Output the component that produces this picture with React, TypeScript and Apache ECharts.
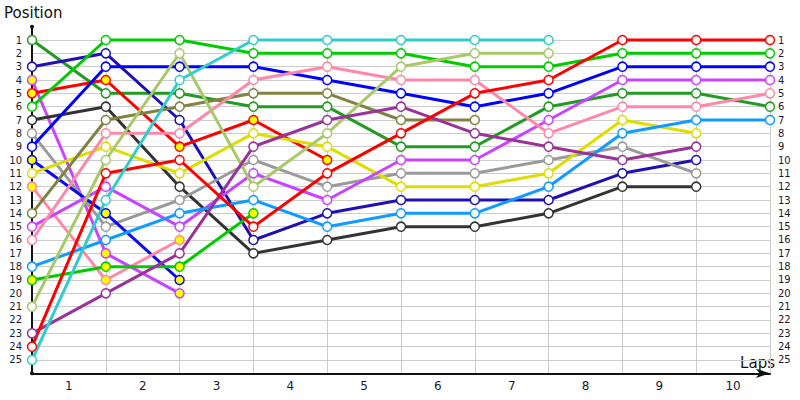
import { useEffect, useRef } from "react";
import * as echarts from "echarts";

// Lap indices (0 = grid / start)
const laps = [0, 1, 2, 3, 4, 5, 6, 7, 8, 9, 10];
// Labels under the x axis (centred between lap lines)
const lapLabels = ["1", "2", "3", "4", "5", "6", "7", "8", "9", "10"];
// Position tick labels on both sides
const positionTicks = [1, 2, 3, 4, 5, 6, 7, 8, 9, 10, 11, 12, 13, 14, 15, 16, 17, 18, 19, 20, 21, 22, 23, 24, 25];

// Drivers
const driverNames = ["A", "B", "C", "D", "E", "F", "G", "H", "I", "J", "K", "L", "M", "N", "O", "P", "Q", "R", "S", "T"];

// Position of each driver at each lap (starting at lap 0); arrays end at retirement
const posA = [1, 5, 5, 6, 6, 9, 9, 6, 5, 5, 6];
const posB = [3, 2, 7, 16, 14, 13, 13, 13, 11, 10];
const posC = [4, 17, 20];
const posD = [5, 4, 9, 7, 10];
const posE = [6, 1, 1, 2, 2, 2, 3, 3, 2, 2, 2];
const posF = [7, 6, 12, 17, 16, 15, 15, 14, 12, 12];
const posG = [8, 15, 13, 10, 12, 11, 11, 10, 9, 11];
const posH = [9, 3, 3, 3, 4, 5, 6, 5, 3, 3, 3];
const posI = [10, 14, 19];
const posJ = [11, 9, 11, 8, 9, 12, 12, 11, 7, 8];
const posK = [12, 19, 16];
const posL = [14, 7, 6, 5, 5, 7, 7];
const posM = [15, 12, 15, 11, 13, 10, 10, 7, 4, 4, 4];
const posN = [16, 8, 8, 4, 3, 4, 4, 8, 6, 6, 5];
const posO = [18, 16, 14, 13, 15, 14, 14, 12, 8, 7, 7];
const posP = [19, 18, 18, 14];
const posQ = [21, 10, 2, 12, 8, 3, 2, 2];
const posR = [23, 20, 17, 9, 7, 6, 8, 9, 10, 9];
const posS = [24, 11, 10, 15, 11, 8, 5, 4, 1, 1, 1];
const posT = [25, 13, 4, 1, 1, 1, 1, 1];

const driverPositions = [posA, posB, posC, posD, posE, posF, posG, posH, posI, posJ, posK, posL, posM, posN, posO, posP, posQ, posR, posS, posT];
// Drivers drawn with yellow-filled markers
const driverFlagged = [false, false, true, true, false, false, false, false, true, false, true, false, false, false, false, true, false, false, false, false];

// Styles
const driverColors = [
  "#239a23", // A dark green
  "#1f0fb4", // B indigo
  "#c845ff", // C purple
  "#ff0000", // D red
  "#00cc00", // E green
  "#333333", // F black
  "#9a9a9a", // G gray
  "#0000ff", // H blue
  "#0a0af0", // I blue
  "#dddd00", // J yellow
  "#ff88aa", // K pink
  "#828242", // L olive
  "#c845ff", // M purple
  "#ff88aa", // N pink
  "#0f9bff", // O light blue
  "#00cc00", // P green
  "#a8c96a", // Q light green
  "#993399", // R dark purple
  "#ff0000", // S red
  "#33cccc", // T cyan
];

const FONT = "DejaVu Sans";

export default function App() {
  const ref = useRef<HTMLDivElement>(null);

  useEffect(() => {
    if (!ref.current) return;
    const chart = echarts.init(ref.current, null, { renderer: "svg" });

    const firstLap = laps[0];
    const lastLap = laps[laps.length - 1];
    const gridLines: any[] = [];
    positionTicks.forEach((p) => {
      gridLines.push([{ coord: [firstLap, p] }, { coord: [lastLap, p] }]);
    });
    laps.slice(1).forEach((l) => {
      gridLines.push([{ coord: [l, positionTicks[0]] }, { coord: [l, 26] }]);
    });

    const series: any[] = [
      {
        name: "grid",
        type: "line",
        data: [[firstLap, positionTicks[0]]],
        silent: true,
        z: 0,
        symbol: "none",
        showSymbol: false,
        lineStyle: { opacity: 0, width: 0 },
        markLine: {
          silent: true,
          z: 0,
          zlevel: 0,
          symbol: ["none", "none"],
          label: { show: false },
          lineStyle: { color: "#cccccc", width: 1, type: "solid" },
          emphasis: { disabled: true },
          data: gridLines,
        },
      },
    ];

    driverPositions.forEach((positions, i) => {
      const data = positions.map((p, k) => [laps[k], p]);
      series.push({
        name: driverNames[i],
        type: "line",
        data,
        z: 2,
        showSymbol: false,
        symbol: "none",
        silent: true,
        lineStyle: { color: driverColors[i], width: 3 },
        itemStyle: { color: driverColors[i] },
      });
    });
    driverPositions.forEach((positions, i) => {
      const data = positions.map((p, k) => [laps[k], p]);
      series.push({
        name: driverNames[i] + "-m",
        type: "scatter",
        data,
        z: 3,
        silent: true,
        symbol: "circle",
        symbolSize: 9,
        itemStyle: {
          color: driverFlagged[i] ? "#ffff00" : "#ffffff",
          borderColor: driverColors[i],
          borderWidth: 1.5,
          opacity: 1,
        },
      });
    });

    const yLabel = {
      color: "#1a1a33",
      fontSize: 10,
      fontFamily: FONT,
      formatter: (v: number) => (positionTicks.includes(v) ? String(v) : ""),
    };

    chart.setOption({
      animation: false,
      backgroundColor: "#ffffff",
      grid: {
        left: 32,
        right: 30,
        top: 26.67,
        bottom: 26.67,
        containLabel: false,
        outerBoundsMode: "none",
      },
      xAxis: [
        {
          type: "value",
          min: firstLap,
          max: lastLap,
          interval: 1,
          position: "bottom",
          axisLine: {
            show: true,
            onZero: false,
            lineStyle: { color: "#111111", width: 2 },
            symbol: ["none", "arrow"],
            symbolSize: [7, 14],
          },
          axisTick: { show: false },
          axisLabel: { show: false },
          splitLine: { show: false },
        },
        {
          type: "category",
          data: lapLabels,
          boundaryGap: true,
          position: "bottom",
          axisLine: { show: false },
          axisTick: { show: false },
          splitLine: { show: false },
          axisLabel: { margin: 7, color: "#1a1a33", fontSize: 12, fontFamily: FONT },
        },
      ],
      yAxis: [
        {
          type: "value",
          min: 0,
          max: 26,
          interval: 1,
          inverse: true,
          position: "left",
          axisLine: {
            show: true,
            onZero: false,
            lineStyle: { color: "#111111", width: 2 },
            symbol: ["circle", "circle"],
            symbolSize: [4, 4],
          },
          axisTick: { show: false },
          splitLine: { show: false },
          axisLabel: { ...yLabel, margin: 10 },
        },
        {
          type: "value",
          min: 0,
          max: 26,
          interval: 1,
          inverse: true,
          position: "right",
          axisLine: { show: false, onZero: false },
          axisTick: { show: false },
          splitLine: { show: false },
          axisLabel: { ...yLabel, margin: 8 },
        },
      ],
      graphic: [
        {
          type: "text",
          left: 4,
          top: 5,
          style: { text: "Position", fontSize: 15, fontFamily: FONT, fill: "#111111" },
        },
        {
          type: "text",
          right: 25,
          top: 355,
          style: { text: "Laps", fontSize: 15, fontFamily: FONT, fill: "#111111" },
        },
      ],
      series,
    });

    return () => chart.dispose();
  }, []);

  return (
    <div
      ref={ref}
      style={{ position: "fixed", left: 0, top: 0, width: 800, height: 400 }}
    />
  );
}
